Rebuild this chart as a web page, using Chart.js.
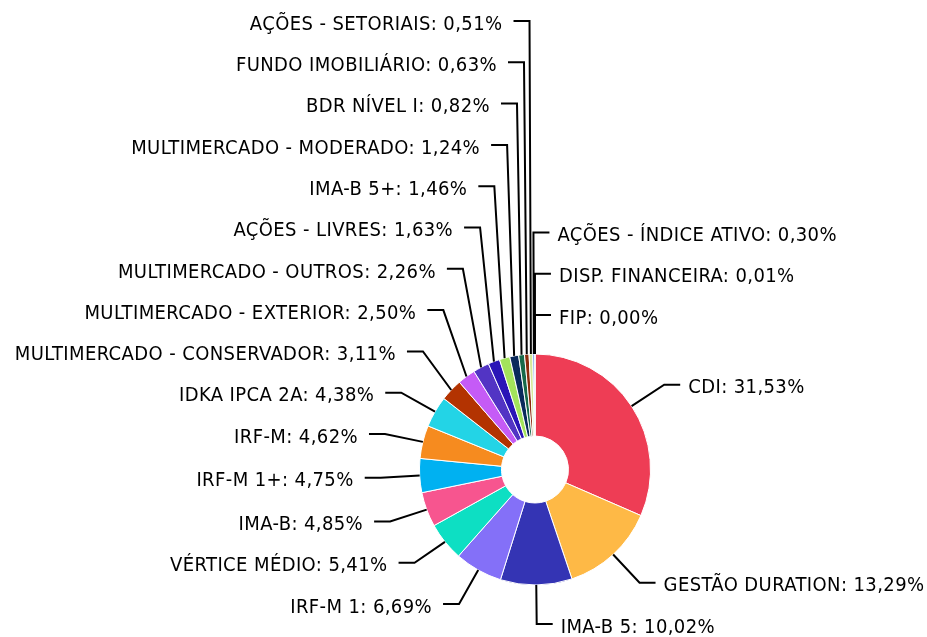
<!DOCTYPE html>
<html>
<head>
<meta charset="utf-8">
<script src="https://cdn.jsdelivr.net/npm/chart.js@4"></script>
<style>
  html, body { margin: 0; padding: 0; background: #fff; }
</style>
</head>
<body>
<canvas id="chart" width="927" height="637"></canvas>
<script>
// slices, clockwise from 12 o'clock
const CATEGORIES = [
  'CDI', 'GESTÃO DURATION', 'IMA-B 5', 'IRF-M 1', 'VÉRTICE MÉDIO', 'IMA-B',
  'IRF-M 1+', 'IRF-M', 'IDKA IPCA 2A', 'MULTIMERCADO - CONSERVADOR',
  'MULTIMERCADO - EXTERIOR', 'MULTIMERCADO - OUTROS', 'AÇÕES - LIVRES',
  'IMA-B 5+', 'MULTIMERCADO - MODERADO', 'BDR NÍVEL I', 'FUNDO IMOBILIÁRIO',
  'AÇÕES - SETORIAIS', 'AÇÕES - ÍNDICE ATIVO', 'DISP. FINANCEIRA', 'FIP'
];
const VALUES = [
  31.53, 13.29, 10.02, 6.69, 5.41, 4.85,
  4.75, 4.62, 4.38, 3.11,
  2.50, 2.26, 1.63,
  1.46, 1.24, 0.82, 0.63,
  0.51, 0.30, 0.01, 0.00
];
const COLORS = [
  '#EE3D55', '#FEB946', '#3434B4', '#8470F8', '#0DDFC3', '#F7558F',
  '#00B1F1', '#F68B1F', '#23D4E6', '#B33301',
  '#C55BF6', '#5234C4', '#2A15B7',
  '#A3E35B', '#0A2A5C', '#17694A', '#8A2B0C',
  '#D6E99B', '#6A8FE8', '#F9C9D8', '#7A7A7A'
];

const FONT = '20px "DejaVu Sans Condensed", "DejaVu Sans", sans-serif';
const LINE_OUT = 39;   // radial part of the leader line
const LINE_H = 16;     // horizontal part
const GAP_L = 11, GAP_R = 8;
const ROW = 41.3;      // min vertical distance between labels

const fmt = v => v.toFixed(2).replace('.', ',') + '%';

// push labels apart, bottom-up, then keep inside the canvas
function spread(items, top, bottom) {
  const n = items.length;
  if (!n) return;
  items[n - 1].y = Math.min(items[n - 1].y, bottom);
  for (let i = n - 2; i >= 0; i--) items[i].y = Math.min(items[i].y, items[i + 1].y - ROW);
  if (items[0].y < top) {
    items[0].y = top;
    for (let i = 1; i < n; i++) items[i].y = Math.max(items[i].y, items[i - 1].y + ROW);
  }
}

const leaderLabels = {
  id: 'leaderLabels',
  afterDatasetsDraw(chart) {
    const ctx = chart.ctx;
    const arcs = chart.getDatasetMeta(0).data;
    const left = [], right = [];

    arcs.forEach((arc, i) => {
      const { x, y, startAngle, endAngle, outerRadius } =
        arc.getProps(['x', 'y', 'startAngle', 'endAngle', 'outerRadius'], true);
      const mid = (startAngle + endAngle) / 2;
      const cos = Math.cos(mid), sin = Math.sin(mid);
      const item = {
        text: CATEGORIES[i] + ': ' + fmt(VALUES[i]),
        mid,
        x0: x + cos * outerRadius, y0: y + sin * outerRadius,
        x1: x + cos * (outerRadius + LINE_OUT),
        y: y + sin * (outerRadius + LINE_OUT)
      };
      // slices touching the top seam go to the right side
      (cos * outerRadius >= -1.5 ? right : left).push(item);
    });

    const key = m => (m > Math.PI ? m - 2 * Math.PI : m);
    right.sort((a, b) => key(a.mid) - key(b.mid));
    left.sort((a, b) => b.mid - a.mid);
    spread(left, 21, chart.height - 11);
    spread(right, 21, chart.height - 11);

    ctx.save();
    ctx.strokeStyle = '#000';
    ctx.fillStyle = '#000';
    ctx.lineWidth = 2;
    ctx.font = FONT;
    ctx.letterSpacing = '0.4px';
    ctx.textBaseline = 'alphabetic';
    const draw = (it, dir) => {
      ctx.beginPath();
      ctx.moveTo(it.x0, it.y0);
      ctx.lineTo(it.x1, it.y);
      ctx.lineTo(it.x1 + dir * LINE_H, it.y);
      ctx.stroke();
      ctx.textAlign = dir > 0 ? 'left' : 'right';
      const gap = dir > 0 ? GAP_R : GAP_L;
      ctx.fillText(it.text, it.x1 + dir * (LINE_H + gap), it.y + 8.7);
    };
    left.forEach(it => draw(it, -1));
    right.forEach(it => draw(it, 1));
    ctx.restore();
  }
};

new Chart(document.getElementById('chart'), {
  type: 'doughnut',
  data: {
    labels: CATEGORIES,
    datasets: [{
      data: VALUES,
      backgroundColor: COLORS,
      borderColor: '#fff',
      borderWidth: 1
    }]
  },
  options: {
    responsive: false,
    animation: false,
    events: [],
    cutout: '29%',
    layout: { padding: { left: 419, right: 276, top: 353.5, bottom: 51.5 } },
    plugins: {
      legend: { display: false },
      tooltip: { enabled: false }
    }
  },
  plugins: [leaderLabels]
});
</script>
</body>
</html>
